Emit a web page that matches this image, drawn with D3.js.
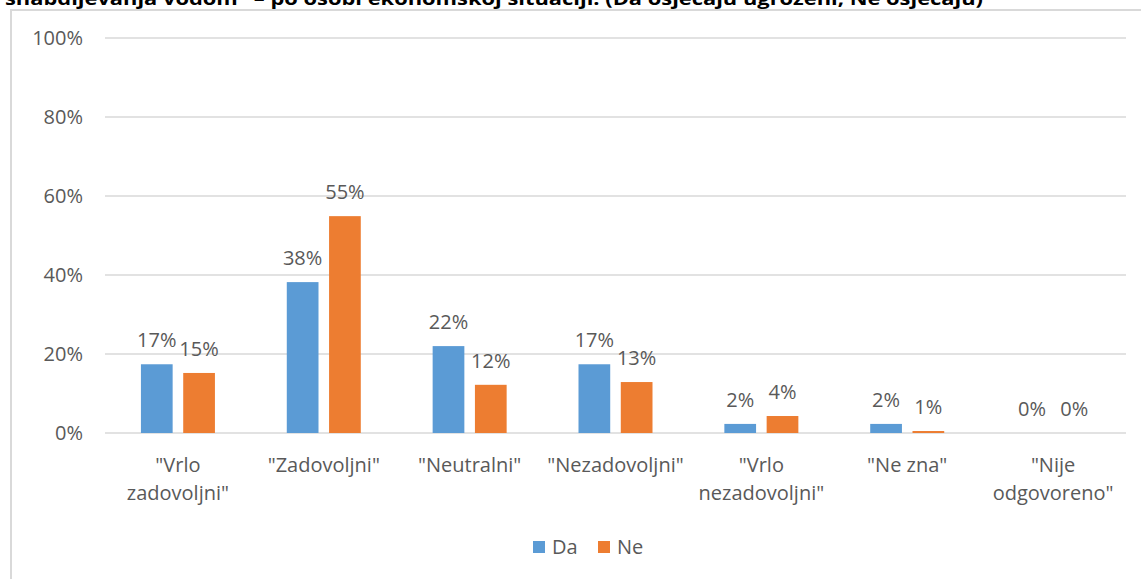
<!DOCTYPE html>
<html>
<head>
<meta charset="utf-8">
<script src="https://cdn.jsdelivr.net/npm/d3@7"></script>
<style>
  body { margin: 0; background: #fff; }
  svg { display: block; font-family: "Open Sans", "Noto Sans", sans-serif; }
</style>
</head>
<body>
<div id="chart"></div>
<script>
// data
const categories = [
    ['"Vrlo', 'zadovoljni"'],
    ['"Zadovoljni"'],
    ['"Neutralni"'],
    ['"Nezadovoljni"'],
    ['"Vrlo', 'nezadovoljni"'],
    ['"Ne zna"'],
    ['"Nije', 'odgovoreno"']
];
const seriesNames = ['Da', 'Ne'];
const daValues = [17.4, 38.2, 22.0, 17.4, 2.3, 2.3, 0];
const neValues = [15.2, 54.9, 12.2, 12.9, 4.3, 0.5, 0];
const yTicks = [0, 20, 40, 60, 80, 100];
const colors = ['#5B9BD5', '#ED7D31'];

const W = 1141, H = 579;
const margin = {top: 38, right: 15, bottom: 146, left: 105};
const width = W - margin.left - margin.right;
const height = H - margin.top - margin.bottom;
const fs = 20;

const svg = d3.select('#chart').append('svg')
    .attr('width', W)
    .attr('height', H);

// title, cut off at the top edge like in the source
svg.append('text')
    .attr('x', 5)
    .attr('y', 5)
    .attr('font-size', 18)
    .attr('font-weight', 'bold')
    .attr('fill', '#000')
    .attr('textLength', 978)
    .attr('lengthAdjust', 'spacingAndGlyphs')
    .text('snabdijevanja vodom" \u2013 po osobi ekonomskoj situaciji: (Da osjećaju ugroženi, Ne osjećaju)');

// chart frame
svg.append('rect')
    .attr('x', 11).attr('y', 10)
    .attr('width', W + 20).attr('height', H + 20)
    .attr('fill', 'none')
    .attr('stroke', '#d9d9d9')
    .attr('stroke-width', 2);

const g = svg.append('g')
    .attr('transform', `translate(${margin.left},${margin.top})`);

const x0 = d3.scaleBand()
    .domain(d3.range(categories.length))
    .range([0, width]);

const x1 = d3.scaleBand()
    .domain(seriesNames)
    .range([x0.bandwidth() / 2 - 37, x0.bandwidth() / 2 + 37])
    .paddingInner(0.25);

const y = d3.scaleLinear()
    .domain([0, 100])
    .range([height, 0]);

// gridlines
g.append('g')
    .selectAll('line')
    .data(yTicks)
    .join('line')
    .attr('x1', 0).attr('x2', width)
    .attr('y1', d => y(d)).attr('y2', d => y(d))
    .attr('stroke', '#d9d9d9')
    .attr('stroke-width', 1.5);

// y axis labels
const yAxis = g.append('g')
    .call(d3.axisLeft(y).tickValues(yTicks).tickFormat(d => d + '%').tickSize(0).tickPadding(22));
yAxis.select('.domain').remove();
yAxis.selectAll('text')
    .attr('font-family', '"Open Sans", sans-serif')
    .attr('font-size', fs)
    .attr('fill', '#595959');

const rows = categories.map((c, i) => ({i: i, Da: daValues[i], Ne: neValues[i]}));

const groups = g.selectAll('.cat')
    .data(rows)
    .join('g')
    .attr('class', 'cat')
    .attr('transform', d => `translate(${x0(d.i)},0)`);

groups.selectAll('rect')
    .data(d => seriesNames.map((s, k) => ({s: s, k: k, v: d[s]})))
    .join('rect')
    .attr('x', d => x1(d.s))
    .attr('width', x1.bandwidth())
    .attr('y', d => y(d.v))
    .attr('height', d => y(0) - y(d.v))
    .attr('fill', d => colors[d.k]);

groups.selectAll('.lbl')
    .data(d => seriesNames.map((s, k) => ({s: s, k: k, v: d[s]})))
    .join('text')
    .attr('class', 'lbl')
    .attr('x', d => x1(d.s) + x1.bandwidth() / 2)
    .attr('y', d => y(d.v) - 24)
    .attr('dy', '0.35em')
    .attr('text-anchor', 'middle')
    .attr('font-size', fs)
    .attr('fill', '#595959')
    .text(d => Math.round(d.v) + '%');

// category labels
const catLbl = g.append('g')
    .selectAll('text')
    .data(categories)
    .join('text')
    .attr('x', (d, i) => x0(i) + x0.bandwidth() / 2)
    .attr('y', height + 39)
    .attr('text-anchor', 'middle')
    .attr('font-size', fs)
    .attr('fill', '#595959');
catLbl.selectAll('tspan')
    .data(d => d)
    .join('tspan')
    .attr('x', function() { return this.parentNode.getAttribute('x'); })
    .attr('dy', (d, j) => j === 0 ? 0 : 28)
    .text(d => d);

// legend
const legend = svg.append('g')
    .attr('transform', 'translate(533,541)');
const items = legend.selectAll('g')
    .data(seriesNames)
    .join('g')
    .attr('transform', (d, i) => `translate(${i * 65},0)`);
items.append('rect')
    .attr('width', 12).attr('height', 12)
    .attr('fill', (d, i) => colors[i]);
items.append('text')
    .attr('x', 19).attr('y', 6)
    .attr('dy', '0.35em')
    .attr('font-size', fs)
    .attr('fill', '#595959')
    .text(d => d);
</script>
</body>
</html>
